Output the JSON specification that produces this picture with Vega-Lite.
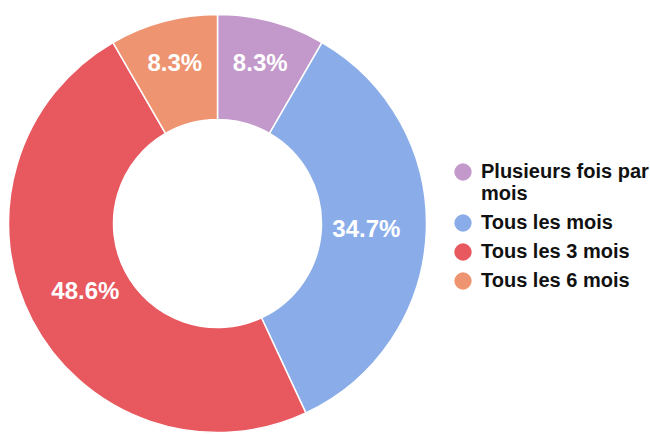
{
  "$schema": "https://vega.github.io/schema/vega-lite/v6.json",
  "autosize": "none",
  "padding": {"left": 0, "top": 0, "right": 215, "bottom": 0},
  "width": 435,
  "height": 447,
  "background": "white",
  "config": {"view": {"stroke": null}, "font": "Liberation Sans"},
  "data": {"values": [
    {"cat": "Plusieurs fois par mois", "n": 6, "ord": 1, "pct": "8.3%"},
    {"cat": "Tous les mois", "n": 25, "ord": 2, "pct": "34.7%"},
    {"cat": "Tous les 3 mois", "n": 35, "ord": 3, "pct": "48.6%"},
    {"cat": "Tous les 6 mois", "n": 6, "ord": 4, "pct": "8.3%"}
  ]},
  "encoding": {
    "theta": {"field": "n", "type": "quantitative", "stack": true},
    "order": {"field": "ord", "type": "quantitative"},
    "color": {
      "field": "cat", "type": "nominal",
      "sort": ["Plusieurs fois par mois", "Tous les mois", "Tous les 3 mois", "Tous les 6 mois"],
      "scale": {
        "domain": ["Plusieurs fois par mois", "Tous les mois", "Tous les 3 mois", "Tous les 6 mois"],
        "range": ["#c398cb", "#8aade9", "#e8585f", "#ee9470"]
      },
      "legend": {
        "title": null,
        "orient": "none",
        "legendX": 453,
        "legendY": 162,
        "symbolType": "circle",
        "symbolSize": 300,
        "symbolStrokeWidth": 0,
        "labelFont": "Liberation Sans",
        "labelFontSize": 20,
        "labelFontWeight": "bold",
        "labelColor": "#111111",
        "labelLimit": 300,
        "labelOffset": 8,
        "rowPadding": 9,
        "labelExpr": "datum.label == 'Plusieurs fois par mois' ? ['Plusieurs fois par', 'mois'] : datum.label"
      }
    }
  },
  "layer": [
    {
      "mark": {"type": "arc", "innerRadius": 104, "outerRadius": 209, "stroke": "white", "strokeWidth": 1.5}
    },
    {
      "mark": {"type": "text", "radius": 165, "font": "Liberation Sans", "fontSize": 24, "fontWeight": "bold", "fill": "white"},
      "encoding": {
        "text": {"condition": {"test": "datum.ord == 1 || datum.ord == 4", "field": "pct"}, "value": ""},
        "color": {"value": "white"}
      }
    },
    {
      "mark": {"type": "text", "radius": 149, "font": "Liberation Sans", "fontSize": 24, "fontWeight": "bold", "fill": "white"},
      "encoding": {
        "text": {"condition": {"test": "datum.ord == 2 || datum.ord == 3", "field": "pct"}, "value": ""},
        "color": {"value": "white"}
      }
    }
  ]
}
